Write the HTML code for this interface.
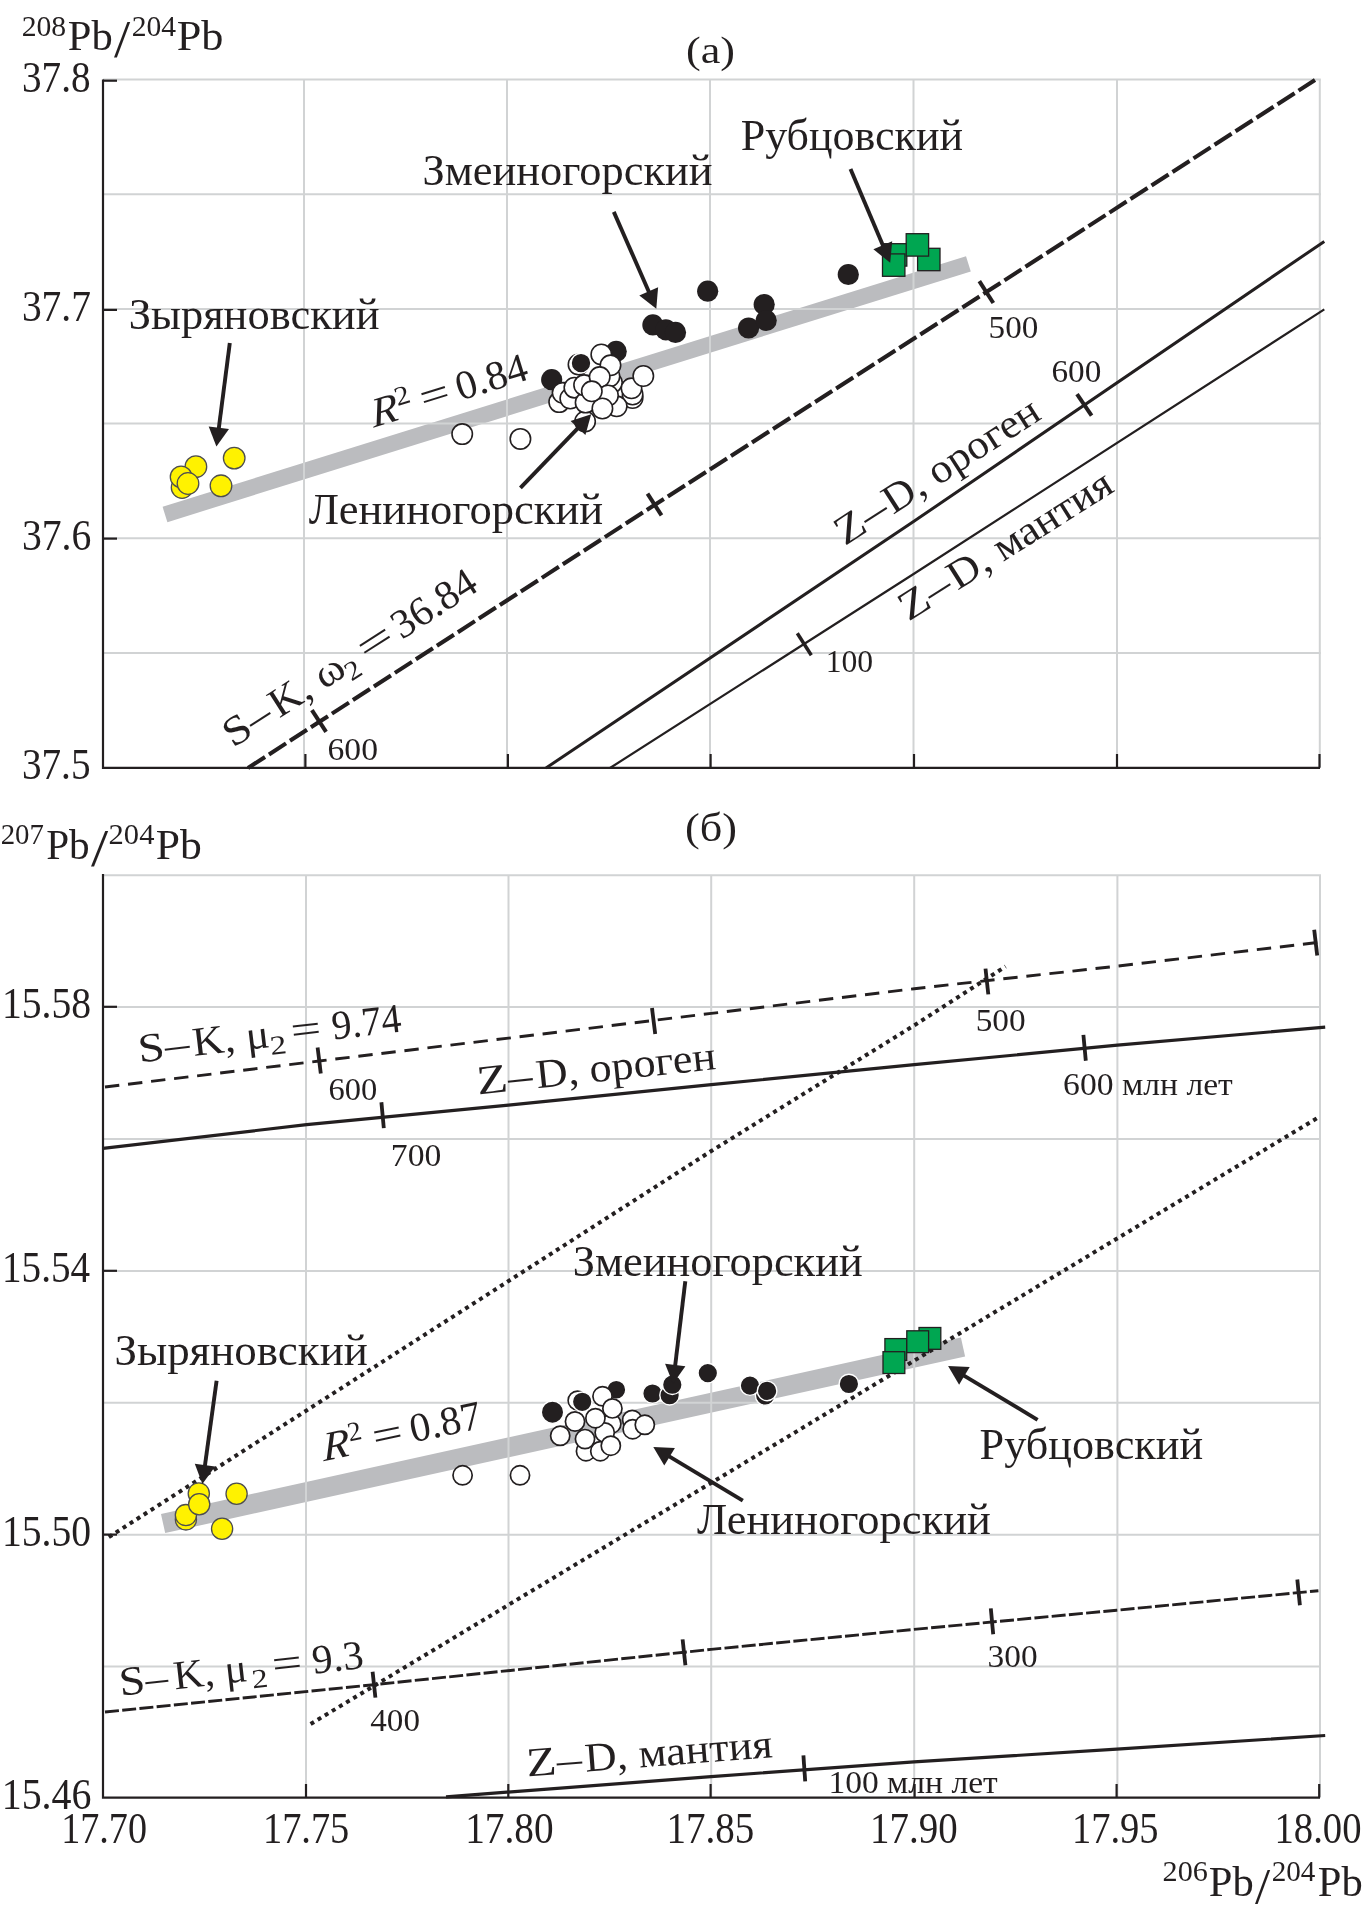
<!DOCTYPE html>
<html><head><meta charset="utf-8"><style>
html,body{margin:0;padding:0;background:#fff;}
svg{display:block;will-change:transform;font-family:"Liberation Serif","Noto Serif CJK SC",serif;}
</style></head><body>
<svg width="1365" height="1909" viewBox="0 0 1365 1909">
<rect width="1365" height="1909" fill="#fff"/>
<line x1="165" y1="514.5" x2="968.4" y2="263.8" stroke="#bbbcbf" stroke-width="16"/>
<line x1="163.1" y1="1523.6" x2="963" y2="1347" stroke="#bbbcbf" stroke-width="19.5"/>
<line x1="304" y1="79.5" x2="304" y2="767" stroke="#d1d3d4" stroke-width="2"/>
<line x1="507" y1="79.5" x2="507" y2="767" stroke="#d1d3d4" stroke-width="2"/>
<line x1="710" y1="79.5" x2="710" y2="767" stroke="#d1d3d4" stroke-width="2"/>
<line x1="913.5" y1="79.5" x2="913.5" y2="767" stroke="#d1d3d4" stroke-width="2"/>
<line x1="1117" y1="79.5" x2="1117" y2="767" stroke="#d1d3d4" stroke-width="2"/>
<line x1="1319.8" y1="79.5" x2="1319.8" y2="767" stroke="#d1d3d4" stroke-width="2"/>
<line x1="103" y1="79.5" x2="1320.8" y2="79.5" stroke="#d1d3d4" stroke-width="2"/>
<line x1="103" y1="194.2" x2="1320.8" y2="194.2" stroke="#d1d3d4" stroke-width="2"/>
<line x1="103" y1="308.9" x2="1320.8" y2="308.9" stroke="#d1d3d4" stroke-width="2"/>
<line x1="103" y1="423.6" x2="1320.8" y2="423.6" stroke="#d1d3d4" stroke-width="2"/>
<line x1="103" y1="538.3" x2="1320.8" y2="538.3" stroke="#d1d3d4" stroke-width="2"/>
<line x1="103" y1="653.0" x2="1320.8" y2="653.0" stroke="#d1d3d4" stroke-width="2"/>
<line x1="306" y1="875" x2="306" y2="1797" stroke="#d1d3d4" stroke-width="2"/>
<line x1="508.5" y1="875" x2="508.5" y2="1797" stroke="#d1d3d4" stroke-width="2"/>
<line x1="711.2" y1="875" x2="711.2" y2="1797" stroke="#d1d3d4" stroke-width="2"/>
<line x1="914.2" y1="875" x2="914.2" y2="1797" stroke="#d1d3d4" stroke-width="2"/>
<line x1="1117.4" y1="875" x2="1117.4" y2="1797" stroke="#d1d3d4" stroke-width="2"/>
<line x1="1320" y1="875" x2="1320" y2="1797" stroke="#d1d3d4" stroke-width="2"/>
<line x1="103" y1="875.2" x2="1321" y2="875.2" stroke="#d1d3d4" stroke-width="2"/>
<line x1="103" y1="1007.1" x2="1321" y2="1007.1" stroke="#d1d3d4" stroke-width="2"/>
<line x1="103" y1="1139.0" x2="1321" y2="1139.0" stroke="#d1d3d4" stroke-width="2"/>
<line x1="103" y1="1270.9" x2="1321" y2="1270.9" stroke="#d1d3d4" stroke-width="2"/>
<line x1="103" y1="1402.8" x2="1321" y2="1402.8" stroke="#d1d3d4" stroke-width="2"/>
<line x1="103" y1="1534.7" x2="1321" y2="1534.7" stroke="#d1d3d4" stroke-width="2"/>
<line x1="103" y1="1666.6" x2="1321" y2="1666.6" stroke="#d1d3d4" stroke-width="2"/>
<path d="M103 79.5 V767.8 H1320" fill="none" stroke="#231f20" stroke-width="2.2"/>
<path d="M103 874 V1797.6 H1320" fill="none" stroke="#231f20" stroke-width="2.2"/>
<line x1="103" y1="80.7" x2="117" y2="80.7" stroke="#231f20" stroke-width="2.2"/>
<line x1="103" y1="309.9" x2="117" y2="309.9" stroke="#231f20" stroke-width="2.2"/>
<line x1="103" y1="538.6" x2="117" y2="538.6" stroke="#231f20" stroke-width="2.2"/>
<line x1="103" y1="1006.8" x2="117" y2="1006.8" stroke="#231f20" stroke-width="2.2"/>
<line x1="103" y1="1270.8" x2="117" y2="1270.8" stroke="#231f20" stroke-width="2.2"/>
<line x1="103" y1="1534.6" x2="117" y2="1534.6" stroke="#231f20" stroke-width="2.2"/>
<line x1="305.4" y1="754" x2="305.4" y2="767.8" stroke="#231f20" stroke-width="2.2"/>
<line x1="507.9" y1="754" x2="507.9" y2="767.8" stroke="#231f20" stroke-width="2.2"/>
<line x1="710.6" y1="754" x2="710.6" y2="767.8" stroke="#231f20" stroke-width="2.2"/>
<line x1="914" y1="754" x2="914" y2="767.8" stroke="#231f20" stroke-width="2.2"/>
<line x1="1117" y1="754" x2="1117" y2="767.8" stroke="#231f20" stroke-width="2.2"/>
<line x1="1319.5" y1="754" x2="1319.5" y2="767.8" stroke="#231f20" stroke-width="2.2"/>
<line x1="306" y1="1784" x2="306" y2="1797.6" stroke="#231f20" stroke-width="2.2"/>
<line x1="508.3" y1="1784" x2="508.3" y2="1797.6" stroke="#231f20" stroke-width="2.2"/>
<line x1="710.6" y1="1784" x2="710.6" y2="1797.6" stroke="#231f20" stroke-width="2.2"/>
<line x1="914.6" y1="1784" x2="914.6" y2="1797.6" stroke="#231f20" stroke-width="2.2"/>
<line x1="1116.6" y1="1784" x2="1116.6" y2="1797.6" stroke="#231f20" stroke-width="2.2"/>
<line x1="1319.2" y1="1784" x2="1319.2" y2="1797.6" stroke="#231f20" stroke-width="2.2"/>
<path d="M248.0 768.0 L319.0 722.0 L654.5 505.0 L987.5 291.3 L1315.0 80.0" fill="none" stroke="#231f20" stroke-width="4.1" stroke-dasharray="20.3 4.7"/>
<line x1="311.9" y1="710.1" x2="326.1" y2="731.9" stroke="#231f20" stroke-width="4"/>
<line x1="647.5" y1="493.6" x2="661.5" y2="515.4" stroke="#231f20" stroke-width="4"/>
<line x1="979.3" y1="281.2" x2="993.3" y2="303.0" stroke="#231f20" stroke-width="4"/>
<path d="M546.0 768.0 L913.2 521.8 L1324.3 241.4" fill="none" stroke="#231f20" stroke-width="3"/>
<line x1="1077.0" y1="394.2" x2="1091.6" y2="415.6" stroke="#231f20" stroke-width="4"/>
<path d="M610.0 768.0 L913.2 574.2 L1324.3 309.4" fill="none" stroke="#231f20" stroke-width="2.2"/>
<line x1="797.3" y1="633.3" x2="811.3" y2="655.3" stroke="#231f20" stroke-width="3.5"/>
<path d="M105.0 1087.0 L319.2 1061.0 L508.5 1038.1 L711.3 1013.4 L914.3 988.7 L1117.5 966.1 L1325.2 941.6" fill="none" stroke="#231f20" stroke-width="2.9" stroke-dasharray="14.4 8.8"/>
<line x1="317.6" y1="1047.6" x2="320.8" y2="1073.4" stroke="#231f20" stroke-width="3.8"/>
<line x1="652.0" y1="1008.1" x2="655.2" y2="1033.9" stroke="#231f20" stroke-width="3.8"/>
<line x1="985.5" y1="968.6" x2="988.3" y2="994.4" stroke="#231f20" stroke-width="3.8"/>
<line x1="1314.2" y1="929.7" x2="1317.2" y2="955.5" stroke="#231f20" stroke-width="3.8"/>
<path d="M103.0 1148.4 L306.6 1124.6 L508.5 1105.1 L711.3 1084.7 L914.3 1064.7 L1117.5 1045.2 L1325.2 1027.1" fill="none" stroke="#231f20" stroke-width="3.2"/>
<line x1="381.4" y1="1102.3" x2="383.8" y2="1128.1" stroke="#231f20" stroke-width="3.8"/>
<line x1="1083.4" y1="1034.9" x2="1085.8" y2="1060.7" stroke="#231f20" stroke-width="3.8"/>
<path d="M108.8 1537.1 L500.0 1286.5 L711.3 1151.0 L914.3 1025.3 L1005.6 966.5" fill="none" stroke="#231f20" stroke-width="4" stroke-dasharray="4 4.3"/>
<path d="M310.6 1724.0 L1319.0 1117.0" fill="none" stroke="#231f20" stroke-width="4" stroke-dasharray="4 4.3"/>
<path d="M105.0 1712.0 L374.0 1684.7 L711.1 1649.4 L914.0 1629.4 L1116.8 1610.2 L1318.4 1590.7" fill="none" stroke="#231f20" stroke-width="2.9" stroke-dasharray="14 3.3"/>
<line x1="372.6" y1="1671.8" x2="375.4" y2="1697.6" stroke="#231f20" stroke-width="3.8"/>
<line x1="682.6" y1="1639.4" x2="685.4" y2="1665.2" stroke="#231f20" stroke-width="3.8"/>
<line x1="990.8" y1="1608.4" x2="993.2" y2="1634.2" stroke="#231f20" stroke-width="3.8"/>
<line x1="1297.3" y1="1579.5" x2="1299.9" y2="1605.3" stroke="#231f20" stroke-width="3.8"/>
<path d="M446.0 1796.8 L711.1 1776.6 L914.0 1761.9 L1116.8 1749.2 L1325.2 1735.5" fill="none" stroke="#231f20" stroke-width="3.2"/>
<line x1="803.4" y1="1755.3" x2="805.2" y2="1781.3" stroke="#231f20" stroke-width="3.8"/>
<circle cx="182.1" cy="487.5" r="10.8" fill="#fff200" stroke="#4d4d4f" stroke-width="1.3"/>
<circle cx="195.9" cy="466.7" r="10.8" fill="#fff200" stroke="#4d4d4f" stroke-width="1.3"/>
<circle cx="181.1" cy="476.9" r="10.8" fill="#fff200" stroke="#4d4d4f" stroke-width="1.3"/>
<circle cx="188" cy="483.5" r="10.8" fill="#fff200" stroke="#4d4d4f" stroke-width="1.3"/>
<circle cx="234.2" cy="458.1" r="10.8" fill="#fff200" stroke="#4d4d4f" stroke-width="1.3"/>
<circle cx="221" cy="485.8" r="10.8" fill="#fff200" stroke="#4d4d4f" stroke-width="1.3"/>
<circle cx="551.7" cy="379.7" r="10.6" fill="#231f20" stroke="none" stroke-width="0"/>
<circle cx="616.2" cy="351.4" r="10.6" fill="#231f20" stroke="none" stroke-width="0"/>
<circle cx="578.5" cy="364.5" r="10.2" fill="#fff" stroke="#231f20" stroke-width="1.6"/>
<circle cx="581" cy="363.1" r="9.9" fill="#231f20" stroke="#fff" stroke-width="1.4"/>
<circle cx="559.2" cy="402.1" r="10.2" fill="#fff" stroke="#231f20" stroke-width="1.6"/>
<circle cx="562.6" cy="392.8" r="10.2" fill="#fff" stroke="#231f20" stroke-width="1.6"/>
<circle cx="570.3" cy="398.5" r="10.2" fill="#fff" stroke="#231f20" stroke-width="1.6"/>
<circle cx="574.4" cy="387.7" r="10.2" fill="#fff" stroke="#231f20" stroke-width="1.6"/>
<circle cx="585.1" cy="421.5" r="10.2" fill="#fff" stroke="#231f20" stroke-width="1.6"/>
<circle cx="585.6" cy="402.6" r="10.2" fill="#fff" stroke="#231f20" stroke-width="1.6"/>
<circle cx="584.1" cy="385.1" r="10.2" fill="#fff" stroke="#231f20" stroke-width="1.6"/>
<circle cx="612" cy="382.7" r="10.2" fill="#fff" stroke="#231f20" stroke-width="1.6"/>
<circle cx="609.5" cy="376.5" r="10.2" fill="#fff" stroke="#231f20" stroke-width="1.6"/>
<circle cx="601.3" cy="354.5" r="10.2" fill="#fff" stroke="#231f20" stroke-width="1.6"/>
<circle cx="610.5" cy="365.3" r="10.2" fill="#fff" stroke="#231f20" stroke-width="1.6"/>
<circle cx="599.7" cy="377.1" r="10.2" fill="#fff" stroke="#231f20" stroke-width="1.6"/>
<circle cx="632.6" cy="398" r="10.2" fill="#fff" stroke="#231f20" stroke-width="1.6"/>
<circle cx="632.6" cy="394.5" r="10.2" fill="#fff" stroke="#231f20" stroke-width="1.6"/>
<circle cx="631.5" cy="388.3" r="10.2" fill="#fff" stroke="#231f20" stroke-width="1.6"/>
<circle cx="643.3" cy="376" r="10.2" fill="#fff" stroke="#231f20" stroke-width="1.6"/>
<circle cx="616.7" cy="406.3" r="10.2" fill="#fff" stroke="#231f20" stroke-width="1.6"/>
<circle cx="608" cy="395.5" r="10.2" fill="#fff" stroke="#231f20" stroke-width="1.6"/>
<circle cx="602.4" cy="408.5" r="10.2" fill="#fff" stroke="#231f20" stroke-width="1.6"/>
<circle cx="591.8" cy="391.3" r="10.2" fill="#fff" stroke="#231f20" stroke-width="1.6"/>
<circle cx="462.2" cy="434.1" r="10.2" fill="#fff" stroke="#231f20" stroke-width="1.6"/>
<circle cx="520.4" cy="438.9" r="10.2" fill="#fff" stroke="#231f20" stroke-width="1.6"/>
<circle cx="652.9" cy="324.9" r="10.6" fill="#231f20" stroke="none" stroke-width="0"/>
<circle cx="665.9" cy="329.8" r="10.6" fill="#231f20" stroke="none" stroke-width="0"/>
<circle cx="675.5" cy="332.4" r="10.6" fill="#231f20" stroke="none" stroke-width="0"/>
<circle cx="707.7" cy="291.2" r="10.6" fill="#231f20" stroke="none" stroke-width="0"/>
<circle cx="748.6" cy="328" r="10.6" fill="#231f20" stroke="none" stroke-width="0"/>
<circle cx="764.2" cy="304.6" r="10.6" fill="#231f20" stroke="none" stroke-width="0"/>
<circle cx="766.2" cy="320.5" r="10.6" fill="#231f20" stroke="none" stroke-width="0"/>
<circle cx="848.3" cy="274.5" r="10.6" fill="#231f20" stroke="none" stroke-width="0"/>
<rect x="884.4" y="243.70000000000002" width="22.4" height="22.4" fill="#00a651" stroke="#231f20" stroke-width="1.3"/>
<rect x="917.5999999999999" y="248.3" width="22.4" height="22.4" fill="#00a651" stroke="#231f20" stroke-width="1.3"/>
<rect x="906.1999999999999" y="233.70000000000002" width="22.4" height="22.4" fill="#00a651" stroke="#231f20" stroke-width="1.3"/>
<rect x="882.5" y="253.90000000000003" width="22.4" height="22.4" fill="#00a651" stroke="#231f20" stroke-width="1.3"/>
<circle cx="185.9" cy="1519.4" r="10.6" fill="#fff200" stroke="#4d4d4f" stroke-width="1.3"/>
<circle cx="198.8" cy="1493.4" r="10.6" fill="#fff200" stroke="#4d4d4f" stroke-width="1.3"/>
<circle cx="185.9" cy="1515.1" r="10.6" fill="#fff200" stroke="#4d4d4f" stroke-width="1.3"/>
<circle cx="199.2" cy="1504.2" r="10.6" fill="#fff200" stroke="#4d4d4f" stroke-width="1.3"/>
<circle cx="236.6" cy="1493.8" r="10.6" fill="#fff200" stroke="#4d4d4f" stroke-width="1.3"/>
<circle cx="222.1" cy="1528.8" r="10.6" fill="#fff200" stroke="#4d4d4f" stroke-width="1.3"/>
<circle cx="552.5" cy="1412.2" r="11.2" fill="#231f20" stroke="#fff" stroke-width="1.4"/>
<circle cx="616.3" cy="1389.7" r="9.5" fill="#231f20" stroke="#fff" stroke-width="1.4"/>
<circle cx="577.5" cy="1400.5" r="9.4" fill="#fff" stroke="#231f20" stroke-width="1.6"/>
<circle cx="611.3" cy="1423.7" r="9.6" fill="#fff" stroke="#231f20" stroke-width="1.7"/>
<circle cx="604.7" cy="1432.5" r="9.6" fill="#fff" stroke="#231f20" stroke-width="1.7"/>
<circle cx="586" cy="1451.2" r="9.6" fill="#fff" stroke="#231f20" stroke-width="1.7"/>
<circle cx="600.3" cy="1451.2" r="9.6" fill="#fff" stroke="#231f20" stroke-width="1.7"/>
<circle cx="585" cy="1439.1" r="9.6" fill="#fff" stroke="#231f20" stroke-width="1.7"/>
<circle cx="602.5" cy="1396.3" r="9.6" fill="#fff" stroke="#231f20" stroke-width="1.7"/>
<circle cx="612.4" cy="1408.4" r="9.6" fill="#fff" stroke="#231f20" stroke-width="1.7"/>
<circle cx="595.4" cy="1418.2" r="9.6" fill="#fff" stroke="#231f20" stroke-width="1.7"/>
<circle cx="575" cy="1421.5" r="9.6" fill="#fff" stroke="#231f20" stroke-width="1.7"/>
<circle cx="560.2" cy="1435.8" r="9.6" fill="#fff" stroke="#231f20" stroke-width="1.7"/>
<circle cx="610.8" cy="1445.7" r="9.6" fill="#fff" stroke="#231f20" stroke-width="1.7"/>
<circle cx="632.2" cy="1419.9" r="9.6" fill="#fff" stroke="#231f20" stroke-width="1.7"/>
<circle cx="632.7" cy="1429.2" r="9.6" fill="#fff" stroke="#231f20" stroke-width="1.7"/>
<circle cx="644.8" cy="1424.8" r="9.6" fill="#fff" stroke="#231f20" stroke-width="1.7"/>
<circle cx="462.6" cy="1475.3" r="9.6" fill="#fff" stroke="#231f20" stroke-width="1.7"/>
<circle cx="520" cy="1475.3" r="9.6" fill="#fff" stroke="#231f20" stroke-width="1.7"/>
<circle cx="582.2" cy="1401.8" r="9.8" fill="#231f20" stroke="#fff" stroke-width="1.4"/>
<circle cx="652.5" cy="1393.5" r="9.8" fill="#231f20" stroke="#fff" stroke-width="1.4"/>
<circle cx="669.6" cy="1395.2" r="9.8" fill="#231f20" stroke="#fff" stroke-width="1.4"/>
<circle cx="672.3" cy="1384.7" r="9.8" fill="#231f20" stroke="#fff" stroke-width="1.4"/>
<circle cx="707.8" cy="1373.1" r="9.8" fill="#231f20" stroke="#fff" stroke-width="1.4"/>
<circle cx="765.2" cy="1395.5" r="9.8" fill="#231f20" stroke="#fff" stroke-width="1.4"/>
<circle cx="750" cy="1385.6" r="9.8" fill="#231f20" stroke="#fff" stroke-width="1.4"/>
<circle cx="767.1" cy="1390.9" r="9.8" fill="#231f20" stroke="#fff" stroke-width="1.4"/>
<circle cx="848.9" cy="1384" r="9.8" fill="#231f20" stroke="#fff" stroke-width="1.4"/>
<rect x="884.9" y="1338.6" width="21.8" height="21.8" fill="#00a651" stroke="#231f20" stroke-width="1.3"/>
<rect x="919.0" y="1327.5" width="21.8" height="21.8" fill="#00a651" stroke="#231f20" stroke-width="1.3"/>
<rect x="906.8000000000001" y="1330.8" width="21.8" height="21.8" fill="#00a651" stroke="#231f20" stroke-width="1.3"/>
<rect x="883.0" y="1351.6999999999998" width="21.8" height="21.8" fill="#00a651" stroke="#231f20" stroke-width="1.3"/>
<line x1="229.8" y1="343.0" x2="218.6" y2="429.7" stroke="#231f20" stroke-width="3.9"/><polygon points="216.4,446.6 208.7,426.4 229.0,429.1" fill="#231f20"/>
<line x1="613.8" y1="211.9" x2="649.5" y2="293.2" stroke="#231f20" stroke-width="3.9"/><polygon points="656.3,308.8 639.3,295.5 658.1,287.3" fill="#231f20"/>
<line x1="850.5" y1="168.9" x2="883.6" y2="247.1" stroke="#231f20" stroke-width="3.9"/><polygon points="890.2,262.8 873.4,249.3 892.2,241.3" fill="#231f20"/>
<line x1="520.4" y1="487.9" x2="579.4" y2="426.6" stroke="#231f20" stroke-width="3.9"/><polygon points="591.2,414.3 585.4,435.1 570.6,420.9" fill="#231f20"/>
<line x1="216.6" y1="1380.7" x2="204.7" y2="1467.2" stroke="#231f20" stroke-width="3.9"/><polygon points="202.4,1484.0 194.8,1463.8 215.1,1466.6" fill="#231f20"/>
<line x1="685.3" y1="1281.3" x2="675.0" y2="1366.9" stroke="#231f20" stroke-width="3.9"/><polygon points="673.0,1383.8 665.1,1363.7 685.4,1366.2" fill="#231f20"/>
<line x1="742.8" y1="1500.7" x2="667.9" y2="1455.7" stroke="#231f20" stroke-width="3.9"/><polygon points="653.3,1447.0 674.9,1448.0 664.3,1465.6" fill="#231f20"/>
<line x1="1037.6" y1="1419.8" x2="962.7" y2="1374.8" stroke="#231f20" stroke-width="3.9"/><polygon points="948.1,1366.1 969.7,1367.1 959.1,1384.7" fill="#231f20"/>
<text x="22.0" y="92.4" font-size="44" textLength="68.5" lengthAdjust="spacingAndGlyphs" fill="#231f20">37.8</text>
<text x="21.9" y="321.1" font-size="44" textLength="69.0" lengthAdjust="spacingAndGlyphs" fill="#231f20">37.7</text>
<text x="21.9" y="550.3" font-size="44" textLength="69.4" lengthAdjust="spacingAndGlyphs" fill="#231f20">37.6</text>
<text x="21.9" y="778.7" font-size="44" textLength="68.6" lengthAdjust="spacingAndGlyphs" fill="#231f20">37.5</text>
<text x="1.9" y="1018.0" font-size="44" textLength="89.2" lengthAdjust="spacingAndGlyphs" fill="#231f20">15.58</text>
<text x="2.0" y="1282.0" font-size="44" textLength="88.1" lengthAdjust="spacingAndGlyphs" fill="#231f20">15.54</text>
<text x="1.9" y="1545.8" font-size="44" textLength="89.2" lengthAdjust="spacingAndGlyphs" fill="#231f20">15.50</text>
<text x="1.7" y="1808.6" font-size="44" textLength="89.8" lengthAdjust="spacingAndGlyphs" fill="#231f20">15.46</text>
<text x="61.2" y="1842.8" font-size="44" textLength="85.8" lengthAdjust="spacingAndGlyphs" fill="#231f20">17.70</text>
<text x="263.0" y="1842.8" font-size="44" textLength="86.3" lengthAdjust="spacingAndGlyphs" fill="#231f20">17.75</text>
<text x="465.2" y="1842.8" font-size="44" textLength="88.4" lengthAdjust="spacingAndGlyphs" fill="#231f20">17.80</text>
<text x="666.5" y="1842.8" font-size="44" textLength="87.8" lengthAdjust="spacingAndGlyphs" fill="#231f20">17.85</text>
<text x="870.1" y="1842.8" font-size="44" textLength="87.5" lengthAdjust="spacingAndGlyphs" fill="#231f20">17.90</text>
<text x="1072.0" y="1842.8" font-size="44" textLength="86.5" lengthAdjust="spacingAndGlyphs" fill="#231f20">17.95</text>
<text x="1274.5" y="1842.8" font-size="44" textLength="87.0" lengthAdjust="spacingAndGlyphs" fill="#231f20">18.00</text>
<text x="21.7" y="35.6" font-size="29" textLength="44.5" lengthAdjust="spacingAndGlyphs" fill="#231f20">208</text>
<text x="67.7" y="50.0" font-size="43" textLength="45.0" lengthAdjust="spacingAndGlyphs" fill="#231f20">Pb</text>
<text x="114.0" y="56.5" font-size="52" textLength="16.2" lengthAdjust="spacingAndGlyphs" fill="#231f20">/</text>
<text x="131.7" y="35.6" font-size="29" textLength="44.4" lengthAdjust="spacingAndGlyphs" fill="#231f20">204</text>
<text x="176.7" y="50.0" font-size="43" textLength="46.8" lengthAdjust="spacingAndGlyphs" fill="#231f20">Pb</text>
<text x="0.7" y="844.0" font-size="29" textLength="43.2" lengthAdjust="spacingAndGlyphs" fill="#231f20">207</text>
<text x="46.2" y="859.0" font-size="43" textLength="43.5" lengthAdjust="spacingAndGlyphs" fill="#231f20">Pb</text>
<text x="91.0" y="865.5" font-size="52" textLength="17.2" lengthAdjust="spacingAndGlyphs" fill="#231f20">/</text>
<text x="108.6" y="844.0" font-size="29" textLength="45.8" lengthAdjust="spacingAndGlyphs" fill="#231f20">204</text>
<text x="155.7" y="859.0" font-size="43" textLength="46.1" lengthAdjust="spacingAndGlyphs" fill="#231f20">Pb</text>
<text x="1162.6" y="1881.0" font-size="29" textLength="45.3" lengthAdjust="spacingAndGlyphs" fill="#231f20">206</text>
<text x="1208.7" y="1896.0" font-size="43" textLength="45.0" lengthAdjust="spacingAndGlyphs" fill="#231f20">Pb</text>
<text x="1255.0" y="1902.5" font-size="50" textLength="15.2" lengthAdjust="spacingAndGlyphs" fill="#231f20">/</text>
<text x="1271.7" y="1881.0" font-size="29" textLength="43.7" lengthAdjust="spacingAndGlyphs" fill="#231f20">204</text>
<text x="1317.7" y="1896.0" font-size="43" textLength="45.0" lengthAdjust="spacingAndGlyphs" fill="#231f20">Pb</text>
<text x="686.0" y="62.7" font-size="38.5" textLength="49.0" lengthAdjust="spacingAndGlyphs" fill="#231f20">(a)</text>
<text x="685.0" y="841.2" font-size="39" textLength="52.0" lengthAdjust="spacingAndGlyphs" fill="#231f20">(б)</text>
<text x="740.7" y="149.9" font-size="44" textLength="222.3" lengthAdjust="spacingAndGlyphs" fill="#231f20">Рубцовский</text>
<text x="422.4" y="184.9" font-size="44" textLength="290.2" lengthAdjust="spacingAndGlyphs" fill="#231f20">Змеиногорский</text>
<text x="128.7" y="328.8" font-size="44" textLength="250.8" lengthAdjust="spacingAndGlyphs" fill="#231f20">Зыряновский</text>
<text x="308.8" y="523.8" font-size="44" textLength="294.4" lengthAdjust="spacingAndGlyphs" fill="#231f20">Лениногорский</text>
<text x="572.7" y="1275.9" font-size="44" textLength="290.0" lengthAdjust="spacingAndGlyphs" fill="#231f20">Змеиногорский</text>
<text x="114.4" y="1364.8" font-size="44" textLength="253.4" lengthAdjust="spacingAndGlyphs" fill="#231f20">Зыряновский</text>
<text x="979.6" y="1458.5" font-size="44" textLength="223.5" lengthAdjust="spacingAndGlyphs" fill="#231f20">Рубцовский</text>
<text x="696.9" y="1533.8" font-size="44" textLength="294.0" lengthAdjust="spacingAndGlyphs" fill="#231f20">Лениногорский</text>
<text x="988.6" y="338.0" font-size="32" textLength="49.7" lengthAdjust="spacingAndGlyphs" fill="#231f20">500</text>
<text x="1051.4" y="382.0" font-size="31.5" textLength="49.9" lengthAdjust="spacingAndGlyphs" fill="#231f20">600</text>
<text x="825.7" y="672.0" font-size="31.5" textLength="47.5" lengthAdjust="spacingAndGlyphs" fill="#231f20">100</text>
<text x="327.5" y="760.0" font-size="32" textLength="50.5" lengthAdjust="spacingAndGlyphs" fill="#231f20">600</text>
<text x="328.5" y="1100.0" font-size="32" textLength="48.8" lengthAdjust="spacingAndGlyphs" fill="#231f20">600</text>
<text x="390.8" y="1165.6" font-size="32" textLength="50.5" lengthAdjust="spacingAndGlyphs" fill="#231f20">700</text>
<text x="975.7" y="1030.5" font-size="32" textLength="50.0" lengthAdjust="spacingAndGlyphs" fill="#231f20">500</text>
<text x="1063.1" y="1094.9" font-size="32" textLength="169.7" lengthAdjust="spacingAndGlyphs" fill="#231f20">600 млн лет</text>
<text x="370.3" y="1730.5" font-size="32" textLength="49.7" lengthAdjust="spacingAndGlyphs" fill="#231f20">400</text>
<text x="987.6" y="1667.3" font-size="32" textLength="50.0" lengthAdjust="spacingAndGlyphs" fill="#231f20">300</text>
<text x="828.4" y="1792.6" font-size="31.5" textLength="169.3" lengthAdjust="spacingAndGlyphs" fill="#231f20">100 млн лет</text>
<g transform="translate(373.2,427.9) rotate(-17.30)"><g transform="skewX(-9)"><text x="0.2" y="0.0" font-size="41" textLength="27.2" lengthAdjust="spacingAndGlyphs" font-style="italic" fill="#231f20">R</text></g><text x="29.6" y="-13.5" font-size="27" textLength="15.0" lengthAdjust="spacingAndGlyphs" fill="#231f20">2</text><text x="53.4" y="0.0" font-size="41" textLength="29.7" lengthAdjust="spacingAndGlyphs" fill="#231f20">=</text><text x="91.1" y="0.0" font-size="41" textLength="73.5" lengthAdjust="spacingAndGlyphs" fill="#231f20">0.84</text></g>
<g transform="translate(235.6,746.6) rotate(-32.70)"><text x="-3.1" y="0.0" font-size="41" textLength="26.4" lengthAdjust="spacingAndGlyphs" fill="#231f20">S</text><text x="23.6" y="0.0" font-size="41" textLength="23.4" lengthAdjust="spacingAndGlyphs" fill="#231f20">–</text><text x="51.8" y="0.0" font-size="41" textLength="81.9" lengthAdjust="spacingAndGlyphs" fill="#231f20">K, ω</text><text x="132.7" y="8.0" font-size="27" textLength="15.0" lengthAdjust="spacingAndGlyphs" fill="#231f20">2</text><text x="155.8" y="0.0" font-size="41" textLength="36.4" lengthAdjust="spacingAndGlyphs" fill="#231f20">=</text><text x="197.4" y="0.0" font-size="41" textLength="93.2" lengthAdjust="spacingAndGlyphs" fill="#231f20">36.84</text></g>
<g transform="translate(845.7,545.7) rotate(-32.90)"><text x="-1.0" y="0.0" font-size="41" textLength="29.3" lengthAdjust="spacingAndGlyphs" fill="#231f20">Z</text><text x="29.0" y="0.0" font-size="41" textLength="25.8" lengthAdjust="spacingAndGlyphs" fill="#231f20">–</text><text x="56.3" y="0.0" font-size="41" textLength="178.7" lengthAdjust="spacingAndGlyphs" fill="#231f20">D, ороген</text></g>
<g transform="translate(910.5,620.5) rotate(-32.30)"><text x="-2.4" y="0.0" font-size="41" textLength="29.6" lengthAdjust="spacingAndGlyphs" fill="#231f20">Z</text><text x="27.8" y="0.0" font-size="41" textLength="25.0" lengthAdjust="spacingAndGlyphs" fill="#231f20">–</text><text x="55.7" y="0.0" font-size="41" textLength="187.2" lengthAdjust="spacingAndGlyphs" fill="#231f20">D, мантия</text></g>
<g transform="translate(142.5,1062.1) rotate(-6.75)"><text x="-3.1" y="0.0" font-size="41" textLength="26.6" lengthAdjust="spacingAndGlyphs" fill="#231f20">S</text><text x="23.8" y="0.0" font-size="41" textLength="24.5" lengthAdjust="spacingAndGlyphs" fill="#231f20">–</text><text x="51.8" y="0.0" font-size="41" textLength="77.1" lengthAdjust="spacingAndGlyphs" fill="#231f20">K, μ</text><text x="128.4" y="8.0" font-size="27" textLength="16.6" lengthAdjust="spacingAndGlyphs" fill="#231f20">2</text><text x="150.8" y="0.0" font-size="41" textLength="30.4" lengthAdjust="spacingAndGlyphs" fill="#231f20">=</text><text x="192.1" y="0.0" font-size="41" textLength="69.6" lengthAdjust="spacingAndGlyphs" fill="#231f20">9.74</text></g>
<g transform="translate(480.5,1094.3) rotate(-6.10)"><text x="-2.6" y="0.0" font-size="41" textLength="31.2" lengthAdjust="spacingAndGlyphs" fill="#231f20">Z</text><text x="28.9" y="0.0" font-size="41" textLength="24.4" lengthAdjust="spacingAndGlyphs" fill="#231f20">–</text><text x="57.1" y="0.0" font-size="41" textLength="180.6" lengthAdjust="spacingAndGlyphs" fill="#231f20">D, ороген</text></g>
<g transform="translate(123.5,1695.3) rotate(-6.50)"><text x="-3.1" y="0.0" font-size="41" textLength="26.1" lengthAdjust="spacingAndGlyphs" fill="#231f20">S</text><text x="23.4" y="0.0" font-size="41" textLength="22.5" lengthAdjust="spacingAndGlyphs" fill="#231f20">–</text><text x="51.8" y="0.0" font-size="41" textLength="74.0" lengthAdjust="spacingAndGlyphs" fill="#231f20">K, μ</text><text x="129.3" y="8.0" font-size="27" textLength="16.2" lengthAdjust="spacingAndGlyphs" fill="#231f20">2</text><text x="151.0" y="0.0" font-size="41" textLength="30.1" lengthAdjust="spacingAndGlyphs" fill="#231f20">=</text><text x="191.2" y="0.0" font-size="41" textLength="51.7" lengthAdjust="spacingAndGlyphs" fill="#231f20">9.3</text></g>
<g transform="translate(529.7,1776.2) rotate(-4.50)"><text x="-2.5" y="0.0" font-size="41" textLength="30.2" lengthAdjust="spacingAndGlyphs" fill="#231f20">Z</text><text x="28.2" y="0.0" font-size="41" textLength="25.0" lengthAdjust="spacingAndGlyphs" fill="#231f20">–</text><text x="56.2" y="0.0" font-size="41" textLength="188.1" lengthAdjust="spacingAndGlyphs" fill="#231f20">D, мантия</text></g>
<g transform="translate(323.2,1461.4) rotate(-11.90)"><g transform="skewX(-9)"><text x="0.2" y="0.0" font-size="41" textLength="27.1" lengthAdjust="spacingAndGlyphs" font-style="italic" fill="#231f20">R</text></g><text x="29.8" y="-14.0" font-size="27" textLength="13.7" lengthAdjust="spacingAndGlyphs" fill="#231f20">2</text><text x="53.3" y="0.0" font-size="41" textLength="30.3" lengthAdjust="spacingAndGlyphs" fill="#231f20">=</text><text x="91.6" y="0.0" font-size="41" textLength="72.2" lengthAdjust="spacingAndGlyphs" fill="#231f20">0.87</text></g>
</svg>
</body></html>
